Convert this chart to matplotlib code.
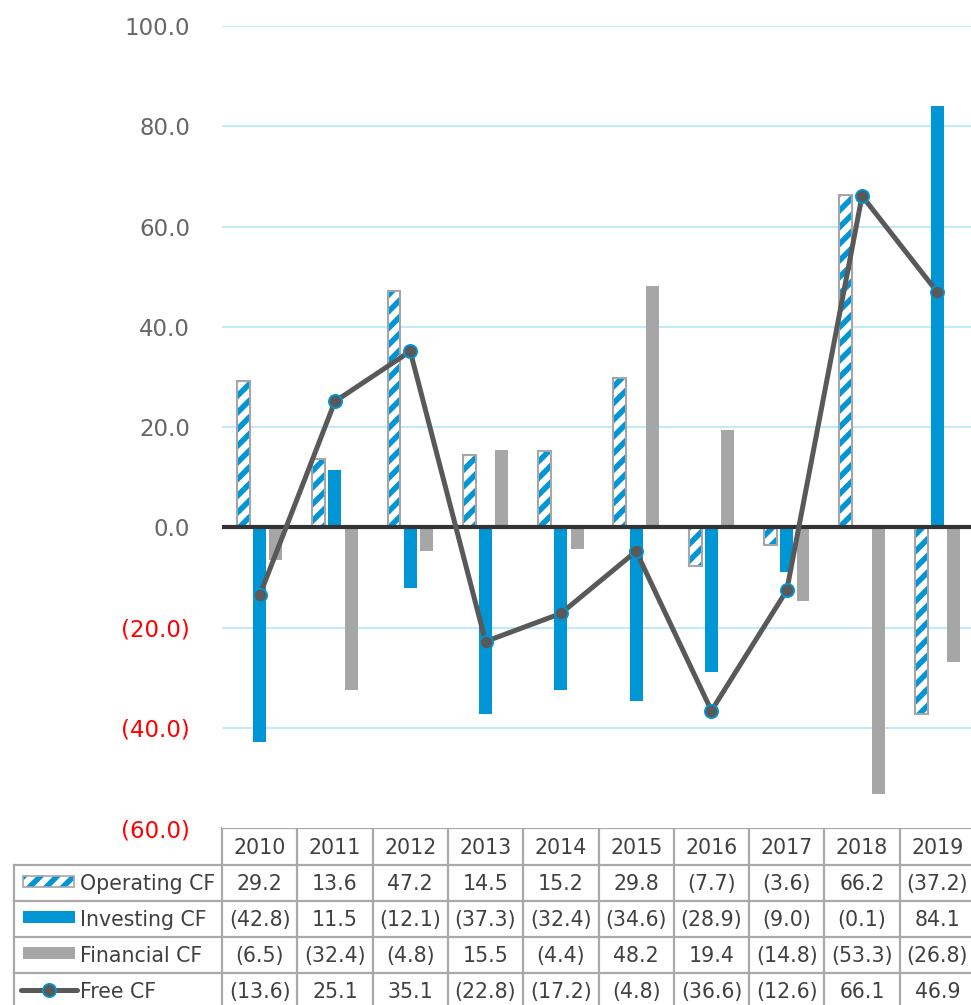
import numpy as np
import matplotlib
matplotlib.use("Agg")
import matplotlib.pyplot as plt
from matplotlib.transforms import blended_transform_factory
from matplotlib.ticker import FuncFormatter
from matplotlib.lines import Line2D
import matplotlib.patches as mpatches

plt.rcParams["font.family"] = ["DejaVu Sans"]
plt.rcParams["hatch.linewidth"] = 4.0

years = ["2010", "2011", "2012", "2013", "2014", "2015", "2016", "2017", "2018", "2019"]
operating_cf = [29.2, 13.6, 47.2, 14.5, 15.2, 29.8, -7.7, -3.6, 66.2, -37.2]
investing_cf = [-42.8, 11.5, -12.1, -37.3, -32.4, -34.6, -28.9, -9.0, -0.1, 84.1]
financial_cf = [-6.5, -32.4, -4.8, 15.5, -4.4, 48.2, 19.4, -14.8, -53.3, -26.8]
free_cf = [-13.6, 25.1, 35.1, -22.8, -17.2, -4.8, -36.6, -12.6, 66.1, 46.9]

series = [
    ("Operating CF", operating_cf),
    ("Investing CF", investing_cf),
    ("Financial CF", financial_cf),
    ("Free CF", free_cf),
]

BLUE = "#0096d6"
GRAY = "#a6a6a6"
DARK = "#595959"
TXT = "#404040"
GRID = "#c3eafa"

W, H = 971, 1005
fig = plt.figure(figsize=(W / 100, H / 100), dpi=100)

# main plot area in pixel terms
left_px, right_px, top_px, bot_px = 222, 975, 26, 828
ax = fig.add_axes([left_px / W, 1 - bot_px / H, (right_px - left_px) / W, (bot_px - top_px) / H])

x = np.arange(len(years))
bw = 0.172
off = 0.216

# operating: white fill with blue hatch, gray outline
ax.bar(x - off, operating_cf, bw, color="white", edgecolor=BLUE, hatch="//", linewidth=0, zorder=3)
ax.bar(x - off, operating_cf, bw, fill=False, edgecolor=GRAY, linewidth=1.5, zorder=3)
ax.bar(x, investing_cf, bw, color=BLUE, zorder=3)
ax.bar(x + off, financial_cf, bw, color=GRAY, zorder=3)

ax.axhline(0, color="#333333", lw=3, zorder=4)
ax.plot(x, free_cf, color=DARK, lw=3.6, marker="o", markersize=9.5,
        markerfacecolor=DARK, markeredgecolor=BLUE, markeredgewidth=1.3, zorder=5)

ax.set_xlim(-0.5, len(years) - 0.5)
ax.set_ylim(-60, 100)
ax.set_yticks(np.arange(-60, 101, 20))


def fmt(v, pos):
    return f"({abs(v):.1f})" if v < 0 else f"{v:.1f}"


ax.yaxis.set_major_formatter(FuncFormatter(fmt))
ax.tick_params(axis="y", length=0, labelsize=16.5, pad=23, labelcolor="#666666")
for lab, v in zip(ax.get_yticklabels(), ax.get_yticks()):
    if v < 0:
        lab.set_color("red")
ax.set_xticks([])
for yv in np.arange(-40, 101, 20):
    if yv != 0:
        ax.axhline(yv, color=GRID, lw=1.5, zorder=1)
for s in ax.spines.values():
    s.set_visible(False)

# data table below the plot
tab = fig.add_axes([0, 0, 1, 1], zorder=-1)
tab.set_xlim(0, W)
tab.set_ylim(H, 0)
tab.axis("off")
tr = blended_transform_factory(ax.transData, tab.transData)

row_tops = [828, 865, 901, 937, 973, 1009]
lc = "#a9a9a9"
lw = 1.6
n = len(years)
# horizontal lines
tab.plot([left_px, right_px + 5], [row_tops[0]] * 2, color=lc, lw=lw)
for yy in row_tops[1:]:
    tab.plot([14, right_px + 5], [yy] * 2, color=lc, lw=lw)
# vertical lines
for i in range(n + 1):
    tab.plot([i - 0.5, i - 0.5], [row_tops[0], row_tops[-1]], color=lc, lw=lw, transform=tr)
tab.plot([14, 14], [row_tops[1], row_tops[-1]], color=lc, lw=lw)

fs = 14.8
for i, yr in enumerate(years):
    tab.text(i, (row_tops[0] + row_tops[1]) / 2 + 1, yr, transform=tr, ha="center", va="center",
             fontsize=fs, color=TXT)
for r, (name, vals) in enumerate(series):
    yc = (row_tops[r + 1] + row_tops[r + 2]) / 2 + 1
    for i, v in enumerate(vals):
        tab.text(i, yc, fmt(v, None), transform=tr, ha="center", va="center", fontsize=fs, color=TXT)
    tab.text(80, yc, name, ha="left", va="center", fontsize=fs, color=TXT)

# legend keys
tab.add_patch(mpatches.Rectangle((23, 876), 51, 11, facecolor="white", edgecolor=BLUE,
                                 hatch="//", linewidth=0))
tab.add_patch(mpatches.Rectangle((23, 876), 51, 11, fill=False, edgecolor=GRAY, linewidth=1.2))
tab.add_patch(mpatches.Rectangle((23, 911), 52, 12, facecolor=BLUE, edgecolor="none"))
tab.add_patch(mpatches.Rectangle((23, 947), 52, 12, facecolor=GRAY, edgecolor="none"))
tab.add_line(Line2D([21, 77], [990, 990], color=DARK, lw=3.6, solid_capstyle="round"))
tab.add_line(Line2D([48.5], [990], marker="o", markersize=9.5, markerfacecolor=DARK,
                    markeredgecolor=BLUE, markeredgewidth=1.3))

fig.savefig("out.png", dpi=100)
